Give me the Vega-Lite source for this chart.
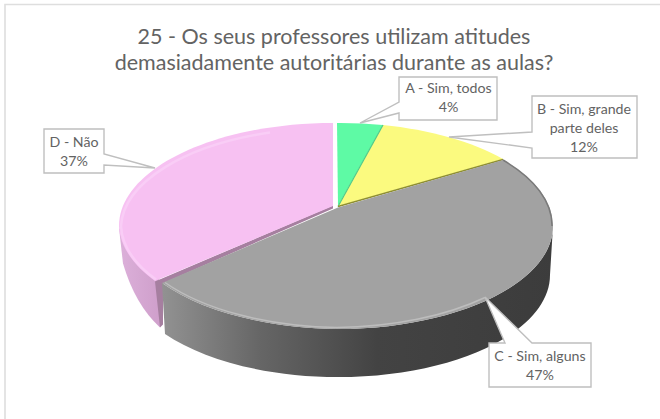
{
"$schema":"https://vega.github.io/schema/vega-lite/v6.json",
"width":660,"height":419,"padding":0,"autosize":{"type":"none"},"background":"white",
"config":{"view":{"stroke":null},"text":{"font":"Lato"}},
"title":{"text":["25 - Os seus professores utilizam atitudes","demasiadamente autoritárias durante as aulas?"],"font":"Lato","fontSize":21.5,"fontWeight":"normal","color":"#636363","anchor":"middle","lineHeight":26,"dx":4,"offset":-74,"baseline":"top"},
"datasets":{"fatias":[
{"categoria":"A - Sim, todos","pct":4,"rotulo":"A - Sim, todos\n4%"},
{"categoria":"B - Sim, grande parte deles","pct":12,"rotulo":"B - Sim, grande\nparte deles\n12%"},
{"categoria":"C - Sim, alguns","pct":47,"rotulo":"C - Sim, alguns\n47%"},
{"categoria":"D - Não","pct":37,"rotulo":"D - Não\n37%"}]},
"data":{"name":"fatias"},
"encoding":{
"x":{"datum":0,"type":"quantitative","scale":{"domain":[-1,1]},"axis":null},
"y":{"datum":0,"type":"quantitative","scale":{"domain":[-1,1]},"axis":null}
},
"layer":[
{"transform":[{"filter":"datum.pct==4"}],"mark":{"type":"point","filled":true,"opacity":1,"size":4,"fill":"#ffffff","stroke":"#dedede","strokeWidth":1.6,"shape":"M-325,-205 L340,-205 L340,220 L-325,220 Z"}},
{"transform":[{"filter":"datum.pct==37"}],"mark":{"type":"point","filled":true,"opacity":1,"size":4,"stroke":null,"fill":{"x1":0,"y1":0,"x2":1,"y2":0,"gradient":"linear","stops":[{"offset":0,"color":"#dcb0da"},{"offset":1,"color":"#cf9fcb"}]},"shape":"M-211,18.5 L-207,54 Q-195,95 -170,118 L-170,71 Z"}},
{"transform":[{"filter":"datum.pct==37"}],"mark":{"type":"point","filled":true,"opacity":1,"size":4,"stroke":null,"fill":"#a67fa0","shape":"M3,-4 L3,-1 L-167,74 L-167,115 L-170,118 L-175,72 Z"}},
{"transform":[{"filter":"datum.pct==47"}],"mark":{"type":"point","filled":true,"opacity":1,"size":4,"stroke":null,"fill":{"x1":0,"y1":0,"x2":1,"y2":0,"gradient":"linear","stops":[{"offset":0,"color":"#929292"},{"offset":0.25,"color":"#666666"},{"offset":0.55,"color":"#434343"},{"offset":1,"color":"#3c3c3c"}]},"shape":"M223,16.5 L220,65.5 A212,102 0 0 1 8,167.5 A212,102 0 0 1 -165,124.5 L-168,73.5 A216,103 0 0 0 7,119.5 A216,103 0 0 0 223,16.5 Z"}},
{"transform":[{"filter":"datum.pct==37"}],"mark":{"type":"point","filled":true,"opacity":1,"size":4,"stroke":null,"fill":"#f7c1f2","shape":"M3,-3.5 L3,-86.5 A214,103 0 0 0 -211,16.5 A214,103 0 0 0 -175,71.5 Z"}},
{"transform":[{"filter":"datum.pct==37"}],"mark":{"type":"point","filled":false,"opacity":1,"size":4,"stroke":"#f9cdf6","strokeWidth":2.5,"shape":"M-60,-77 A212,101 0 0 0 -209,16.5 A212,101 0 0 0 -174,70"}},
{"transform":[{"filter":"datum.pct==4"}],"mark":{"type":"point","filled":true,"opacity":1,"size":4,"stroke":null,"fill":"#5efaa5","shape":"M8,-3.5 L7,-86.5 A216,103 0 0 1 53,-84.5 Z"}},
{"transform":[{"filter":"datum.pct==12"}],"mark":{"type":"point","filled":true,"opacity":1,"size":4,"stroke":null,"fill":"#fbfa7f","shape":"M8,-3.5 L53,-84.5 A216,103 0 0 1 173,-50.5 Z"}},
{"transform":[{"filter":"datum.pct==4"}],"mark":{"type":"point","filled":false,"opacity":1,"size":4,"stroke":"#4fc98a","strokeWidth":1.2,"shape":"M8,-3 L53,-84.5"}},
{"transform":[{"filter":"datum.pct==12"}],"mark":{"type":"point","filled":false,"opacity":1,"size":4,"stroke":"#8f8f30","strokeWidth":1.5,"shape":"M8,-3 L173,-50"}},
{"transform":[{"filter":"datum.pct==47"}],"mark":{"type":"point","filled":true,"opacity":1,"size":4,"stroke":null,"fill":"#a2a2a2","shape":"M8,-2 L173,-49.5 A216,103 0 0 1 223,16.5 A216,103 0 0 1 7,119.5 A216,103 0 0 1 -168,73.5 Z"}},
{"transform":[{"filter":"datum.pct==47"}],"mark":{"type":"point","filled":false,"opacity":1,"size":4,"stroke":"#7a7a7a","strokeWidth":1.5,"shape":"M173,-49.5 A216,103 0 0 1 222,16.5"}},
{"transform":[{"filter":"datum.pct==47"}],"mark":{"type":"point","filled":false,"opacity":1,"size":4,"stroke":"#bdbdbd","strokeWidth":1.5,"shape":"M-165,73 A216,103 0 0 0 7,118 A216,103 0 0 0 155,88"}},
{"transform":[{"filter":"datum.pct==4"}],"mark":{"type":"point","filled":true,"opacity":1,"size":4,"fill":"#ffffff","stroke":"#bfbfbf","strokeWidth":1.4,"shape":"M69,-132.5 L167,-132.5 L167,-89.5 L69,-89.5 L69,-96.5 L30,-86.5 L69,-107.5 Z"}},
{"transform":[{"filter":"datum.pct==12"}],"mark":{"type":"point","filled":true,"opacity":1,"size":4,"fill":"#ffffff","stroke":"#bfbfbf","strokeWidth":1.4,"shape":"M202,-113.5 L307,-113.5 L307,-51.5 L202,-51.5 L202,-61.5 L119,-72.5 L202,-77.5 Z"}},
{"transform":[{"filter":"datum.pct==47"}],"mark":{"type":"point","filled":true,"opacity":1,"size":4,"fill":"#ffffff","stroke":"#bfbfbf","strokeWidth":1.4,"shape":"M159,133.5 L175,133.5 L155,87.5 L202,133.5 L261,133.5 L261,177.5 L159,177.5 Z"}},
{"transform":[{"filter":"datum.pct==37"}],"mark":{"type":"point","filled":true,"opacity":1,"size":4,"fill":"#ffffff","stroke":"#bfbfbf","strokeWidth":1.4,"shape":"M-286,-80.5 L-226,-80.5 L-226,-55.5 L-175,-41.5 L-226,-44.5 L-226,-36.5 L-286,-36.5 Z"}},
{"transform":[{"filter":"datum.pct==4"}],"mark":{"type":"text","lineBreak":"\n","lineHeight":19,"fontSize":14.2,"font":"Lato","color":"#636363","align":"center","baseline":"middle","dx":118.5,"dy":-120.5},"encoding":{"text":{"field":"rotulo"}}},
{"transform":[{"filter":"datum.pct==12"}],"mark":{"type":"text","lineBreak":"\n","lineHeight":19,"fontSize":14.2,"font":"Lato","color":"#636363","align":"center","baseline":"middle","dx":254,"dy":-99.5},"encoding":{"text":{"field":"rotulo"}}},
{"transform":[{"filter":"datum.pct==47"}],"mark":{"type":"text","lineBreak":"\n","lineHeight":19,"fontSize":14.2,"font":"Lato","color":"#636363","align":"center","baseline":"middle","dx":210,"dy":147.5},"encoding":{"text":{"field":"rotulo"}}},
{"transform":[{"filter":"datum.pct==37"}],"mark":{"type":"text","lineBreak":"\n","lineHeight":19,"fontSize":14.2,"font":"Lato","color":"#636363","align":"center","baseline":"middle","dx":-256,"dy":-66.5},"encoding":{"text":{"field":"rotulo"}}}
]
}
